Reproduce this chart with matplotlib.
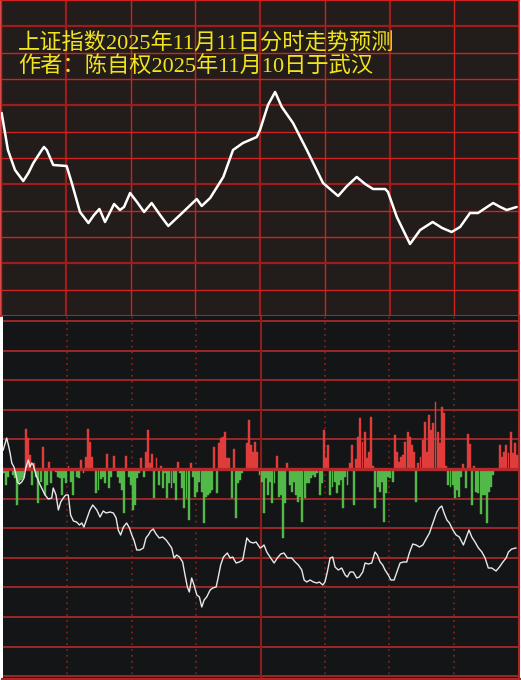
import matplotlib.pyplot as plt
import numpy as np

# serif digits like the original, CJK falls back to Noto
plt.rcParams['font.family'] = ['Liberation Serif', 'Noto Sans CJK SC', 'DejaVu Sans']

title1 = "上证指数2025年11月11日分时走势预测"
title2 = "作者：陈自权2025年11月10日于武汉"

# forecast curve (top panel), minute of session -> level
top_minutes = [0.3, 3.2, 6.5, 10.3, 12.7, 15.0, 18.9, 19.9, 21.2, 24.2, 30.4, 32.8, 36.6,
               40.5, 43.1, 45.6, 48.2, 52.4, 55.1, 57.0, 59.8, 63.0, 66.3, 69.8, 73.7,
               77.5, 83.9, 90.7, 93.0, 96.9, 103.0, 107.5, 112.1, 118.5, 120.0, 123.7,
               127.0, 130.1, 135.3, 141.7, 149.2, 156.2, 160.3, 164.8, 168.7, 172.4,
               178.0, 179.3, 183.4, 189.5, 194.2, 200.0, 204.4, 208.8, 212.7, 217.3,
               221.0, 228.0, 231.3, 234.3, 238.9]
top_values = [203, 166, 146, 135, 143, 153, 166, 169, 166, 151, 150, 133, 104,
              93, 101, 107, 94, 112, 106, 109, 123, 114, 104, 113, 101,
              90, 103, 117, 110, 118, 139, 166, 173, 179, 186, 211,
              224, 209, 193, 166, 133, 120, 130, 139, 132, 127,
              127, 124, 99, 72, 86, 94, 88, 84, 89, 103,
              103, 113, 109, 106, 109]

# per-minute volume difference bars (240 minutes)
bar_values = [
    -4, -16, -8, 0, -6, -9, -36, -13, -11, -9, 40, 31, 14, -16, 6, -8, -34, -13, 22, -26,
    -16, 7, -14, 0, -3, -8, -9, -26, -9, -14, 3, -13, -26, 0, -8, -9, 9, -4, 12, 40,
    27, 12, 0, -24, -21, -10, -8, -14, 15, -19, -8, 13, 0, -8, -14, -21, -44, 13, -8, -16,
    -41, -36, -9, -4, 11, -8, 17, 39, 6, 15, -29, 11, -16, 3, -19, -4, -29, -14, -19, -14,
    -31, 7, -4, -19, -39, -29, -51, 6, -8, -28, -23, -13, -23, -54, -28, -26, -24, -21, 22, -24,
    26, 31, 32, 37, 11, 11, -29, 20, -49, -14, -11, -4, 0, 26, 49, 24, 17, 27, 17, -6,
    -13, -44, -9, -26, -13, -34, -14, 13, -28, -26, -69, -34, 6, -16, -23, -13, -26, -33, -28, -53,
    -29, -14, -14, -9, -6, -8, -4, -26, -14, 39, 11, 24, -26, -18, -13, -24, -16, -11, -39, -8,
    -16, 6, 24, -36, 10, 32, 51, 27, 37, 11, 17, 52, 3, -39, -18, -23, -13, -53, -24, -8,
    -9, -13, 34, 17, 7, 12, 14, 27, 37, 32, 24, 17, -33, 6, 12, 29, 47, 17, 54, 39,
    46, 67, 37, 26, 62, 56, 3, -16, -18, -16, -29, -21, -28, -8, 5, -19, 35, 25, -36, 3,
    -23, -24, -45, -26, -26, -54, -23, -18, -6, 0, 0, 24, 12, 17, 24, 16, 37, 16, 26, 14,
]

# actual intraday line (bottom panel)
line_minutes = [0.1, 1.7, 2.5, 3.3, 4.1, 5.1, 6.1, 6.7, 7.6, 8.7, 9.8, 10.7, 11.8, 12.6, 13.4,
                14.1, 15.4, 16.9, 18.0, 19.6, 21.1, 22.7, 23.4, 24.7, 25.8, 26.9, 28.1, 29.2,
                30.4, 31.5, 32.8, 34.3, 35.6, 36.7, 37.7, 39.0, 40.5, 41.8, 43.7, 45.2, 46.7,
                48.0, 49.9, 51.4, 52.7, 53.7, 54.8, 56.1, 57.6, 58.9, 60.0, 61.0, 62.3, 63.8,
                65.4, 66.6, 67.7, 68.8, 70.0, 71.3, 72.8, 74.4, 76.0, 77.0, 78.6, 79.7, 80.9,
                82.2, 83.7, 84.8, 85.9, 86.8, 87.9, 89.0, 90.3, 91.5, 92.6, 93.7, 94.9, 96.5,
                97.7, 99.3, 100.3, 101.4, 102.7, 104.5, 105.8, 107.0, 108.6, 110.1, 111.7,
                112.8, 113.6, 115.1, 116.6, 117.9, 119.8, 120.6, 121.6, 122.9, 124.7, 126.3,
                127.8, 129.4, 130.9, 132.5, 134.5, 136.1, 137.6, 139.2, 140.3, 141.5, 143.1,
                144.6, 146.2, 147.4, 149.0, 150.0, 151.1, 152.4, 153.6, 154.7, 156.2, 157.8,
                159.4, 160.4, 161.7, 163.2, 164.8, 166.0, 167.6, 168.7, 170.2, 171.8, 173.3,
                174.4, 175.7, 176.9, 178.0, 179.5, 180.7, 182.2, 183.5, 185.0, 186.5, 188.1,
                189.3, 190.9, 192.5, 194.0, 195.6, 197.1, 198.7, 199.8, 200.8, 202.1, 203.3,
                204.4, 205.5, 206.8, 208.0, 209.6, 211.1, 212.6, 214.5, 215.7, 217.1, 218.4,
                219.9, 221.5, 223.1, 224.6, 226.1, 227.7, 229.7, 231.3, 232.9, 234.4, 235.5,
                237.0, 239.0]
line_values = [19, 31, 24, 16, 6, 2, -6, -13, -15, -13, -9, 2, 9, 2, 6,
               4, -6, -14, -19, -26, -30, -29, -19, -26, -41, -33, -29, -26,
               -26, -46, -52, -53, -56, -54, -58, -50, -41, -36, -41, -48, -42,
               -44, -43, -44, -49, -61, -66, -58, -54, -59, -66, -71, -81, -81,
               -79, -69, -66, -62, -60, -65, -69, -68, -71, -74, -79, -89, -86,
               -88, -93, -106, -118, -123, -109, -116, -126, -128, -138, -131, -128, -121,
               -119, -118, -108, -96, -88, -84, -89, -88, -94, -93, -91,
               -78, -69, -73, -74, -73, -79, -78, -76, -83, -89, -94,
               -89, -85, -84, -89, -89, -93, -96, -101, -111, -113, -111,
               -113, -114, -113, -116, -113, -103, -89, -88, -98, -101, -99,
               -106, -108, -103, -103, -109, -108, -103, -94, -95, -94, -83,
               -86, -93, -96, -101, -106, -111, -111, -103, -94, -93, -93,
               -84, -75, -76, -78, -76, -70, -64, -57, -51, -43, -39,
               -37, -44, -51, -54, -61, -66, -68, -76, -69, -61, -68,
               -73, -79, -83, -89, -99, -99, -102, -98, -93, -89, -83,
               -80, -79]

W, H = 521, 680
fig = plt.figure(figsize=(W / 100, H / 100), dpi=100)
fig.patch.set_facecolor('white')

# ---- top panel: forecast ----
ax_top = fig.add_axes([1 / W, 1 - 316 / H, 518 / W, 316 / H])
ax_top.set_facecolor('#221c1a')
ax_top.set_xlim(0, 240)
ax_top.set_ylim(0, 316)
for k in range(0, 241, 30):
    if k in (30, 120, 180):
        ax_top.axvline(k, color='#9e1c1c', lw=1.6, zorder=1)
    else:
        ax_top.axvline(k, color='#d02222', lw=1.0, zorder=1)
row_h = 316 / 12
for j in range(13):
    if j in (1, 4, 7, 10):
        ax_top.axhline(316 - j * row_h, color='#9e1c1c', lw=1.6, zorder=1)
    else:
        ax_top.axhline(316 - j * row_h, color='#d02222', lw=1.0, zorder=1)
ax_top.plot(top_minutes, top_values, color='white', lw=1.8,
            solid_joinstyle='round', solid_capstyle='round', zorder=3)
for s in ax_top.spines.values():
    s.set_color('#d02222')
    s.set_linewidth(1.2)
ax_top.set_xticks([])
ax_top.set_yticks([])

fig.text(18 / W, 1 - 44 / H, title1, color='#f2e41c', fontsize=16, va='center', ha='left')
fig.text(18 / W, 1 - 66 / H, title2, color='#f2e41c', fontsize=16, va='center', ha='left')

# ---- bottom panel: actual ----
ax_bot = fig.add_axes([3 / W, 0, 516 / W, 364 / H])
ax_bot.set_facecolor('#141517')
ax_bot.set_xlim(0, 240.4)
ax_bot.set_ylim(-211, 153)
step = 29.6
for k in range(-7, 6):
    if k == 0:
        continue
    ax_bot.axhline(k * step, color='#a82828', lw=1.3, zorder=1)
for k in (30, 60, 90, 150, 180, 210):
    ax_bot.axvline(k, color='#8e2222', lw=1.2, ls=(0, (1, 2.5)), zorder=1)
ax_bot.axvline(120, color='#8e1e1e', lw=1.5, zorder=1)

x = np.arange(len(bar_values)) + 0.5
colors = ['#e03c3c' if v > 0 else '#52b848' for v in bar_values]
ax_bot.bar(x, bar_values, width=0.9, color=colors, edgecolor=colors,
           linewidth=0.3, zorder=3)
ax_bot.axhline(0, color='#b42a2a', lw=2.4, zorder=4)
ax_bot.plot(line_minutes, line_values, color='#e8e8e8', lw=1.0, zorder=5)

ax_bot.spines['left'].set_visible(False)
ax_bot.spines['top'].set_visible(False)
ax_bot.spines['right'].set_color('#a82828')
ax_bot.spines['right'].set_linewidth(1.5)
ax_bot.spines['bottom'].set_color('#a82828')
ax_bot.spines['bottom'].set_linewidth(3)
ax_bot.set_xticks([])
ax_bot.set_yticks([])

fig.savefig('out.png', dpi=100, facecolor='white')
